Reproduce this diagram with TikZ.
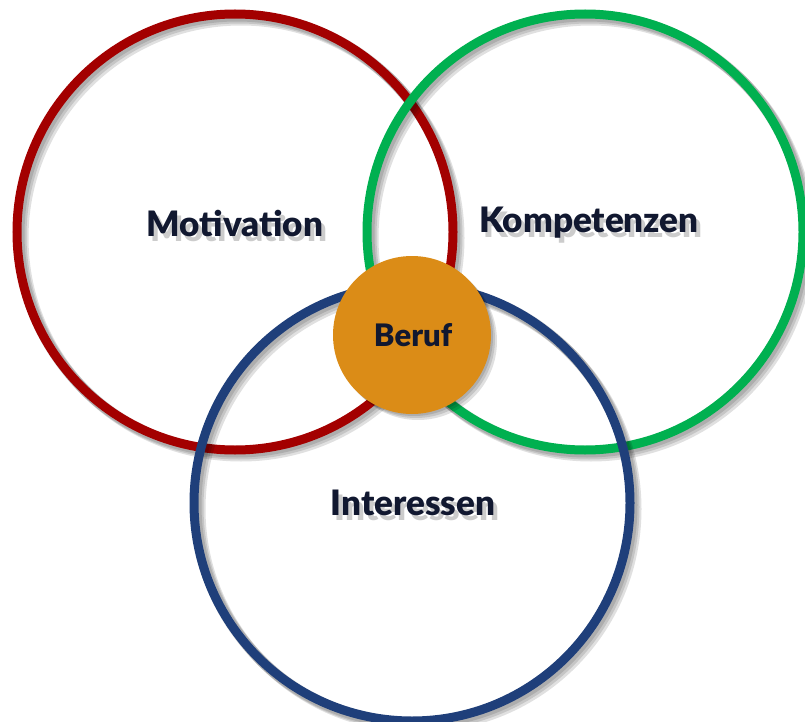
\documentclass[tikz,border=0pt]{standalone}
\usepackage{fontspec}
\setmainfont{Lato}[BoldFont={Lato Black}]
\usepackage{tikz}

\definecolor{motred}{HTML}{A30000}
\definecolor{kompgreen}{HTML}{00B050}
\definecolor{intblue}{HTML}{1F3F7A}
\definecolor{berufor}{HTML}{DB8C17}
\definecolor{labelnavy}{HTML}{111830}

\tikzset{
    ring/.style={line width=9pt},
    ringshadow/.style={line width=11pt, black, opacity=0.12},
    label/.style={font=\bfseries\fontsize{35}{35}\selectfont, text=labelnavy, inner sep=0pt},
    labelshadow/.style={label, text=black, opacity=0.2},
}

\begin{document}
\begin{tikzpicture}[x=1pt, y=-1pt]
    \useasboundingbox (0,0) rectangle (805,722);

    \coordinate (motc) at (235,232);
    \coordinate (kompc) at (585,232);
    \coordinate (intc) at (412,503);
    \coordinate (berc) at (412,335);

    % Circles with soft shadows
    \foreach \d in {2,4,6} {
        \draw[ringshadow] ([shift={(\d,\d)}]motc) circle (218);
    }
    \draw[ring, motred] (motc) circle (218);
    \foreach \d in {2,4,6} {
        \draw[ringshadow] ([shift={(\d,\d)}]kompc) circle (218);
    }
    \draw[ring, kompgreen] (kompc) circle (218);
    \foreach \d in {2,4,6} {
        \draw[ringshadow] ([shift={(\d,\d)}]intc) circle (218);
    }
    \draw[ring, intblue] (intc) circle (218);

    % Centre disc
    \foreach \d in {2,4,6} {
        \fill[black, opacity=0.12] ([shift={(\d,\d)}]berc) circle (79);
    }
    \fill[berufor] (berc) circle (79);

    % Labels
    \node[labelshadow] at ([shift={(4,5)}]235,223) {Motivation};
    \node[label] (motivation) at (235,223) {Motivation};
    \node[labelshadow] at ([shift={(4,5)}]589,223) {Kompetenzen};
    \node[label] (kompetenzen) at (589,223) {Kompetenzen};
    \node[labelshadow] at ([shift={(4,5)}]413,503) {Interessen};
    \node[label] (interessen) at (413,503) {Interessen};
    \node[label, font=\bfseries\fontsize{31}{31}\selectfont] (beruf) at (413,335) {Beruf};

\end{tikzpicture}
\end{document}
